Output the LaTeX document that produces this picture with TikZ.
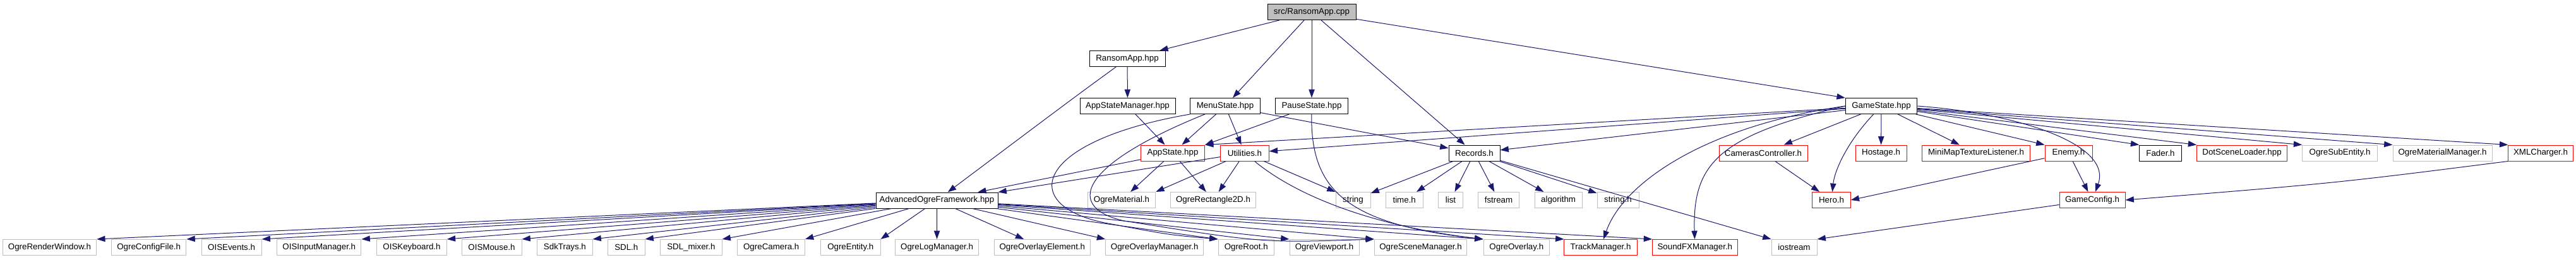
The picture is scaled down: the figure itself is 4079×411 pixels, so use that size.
\documentclass[tikz,border=0pt]{standalone}
\usepackage{fontspec}
\setmainfont{Liberation Sans}
\usetikzlibrary{arrows.meta}
\definecolor{edgec}{HTML}{191970}
\definecolor{grayb}{HTML}{BFBFBF}
\tikzset{
  nd/.style={draw, rectangle, inner sep=0pt, minimum height=18.75pt, line width=0.75pt, font=\fontsize{10pt}{12pt}\selectfont},
  bw/.style={minimum width=#1*0.75pt},
  ext/.style={nd, draw=grayb},
  trunc/.style={nd, draw=red},
  blk/.style={nd, draw=black},
  rootn/.style={nd, draw=black, fill=grayb},
  edge/.style={draw=edgec, line width=0.75pt, -{Triangle[length=10pt,width=7pt]}},
}
\begin{document}
\begin{tikzpicture}[x=0.75pt,y=-0.75pt]
\useasboundingbox (0,0) rectangle (4079,411);
% row 1-3
\node[rootn, bw=140] (cpp) at (2077,19) {src/RansomApp.cpp};
\node[blk, bw=120] (rapp) at (1785,93) {RansomApp.hpp};
\node[blk, bw=151] (asm) at (1785.5,168) {AppStateManager.hpp};
\node[blk, bw=110.5] (menu) at (1940,168) {MenuState.hpp};
\node[blk, bw=114.6] (pause) at (2077,168) {PauseState.hpp};
\node[blk, bw=113.5] (gs) at (2979,168) {GameState.hpp};
% row 4
\node[trunc, bw=101.3] (apst) at (1857,242.5) {AppState.hpp};
\node[trunc, bw=76.5] (util) at (1971,242.5) {Utilities.h};
\node[blk, bw=81] (rec) at (2334.5,242.5) {Records.h};
\node[trunc, bw=140] (cam) at (2792,242.5) {CamerasController.h};
\node[trunc, bw=81] (host) at (2978.5,242.5) {Hostage.h};
\node[trunc, bw=170.6] (mini) at (3129,242.5) {MiniMapTextureListener.h};
\node[trunc, bw=75] (enemy) at (3275.5,242.5) {Enemy.h};
\node[blk, bw=66.6] (fader) at (3421,242.5) {Fader.h};
\node[trunc, bw=142.7] (dsl) at (3550,242.5) {DotSceneLoader.hpp};
\node[ext, bw=118.6] (ose) at (3705,242.5) {OgreSubEntity.h};
\node[ext, bw=157] (omm) at (3867.5,242.5) {OgreMaterialManager.h};
\node[trunc, bw=102.4] (xml) at (4023,242.5) {XMLCharger.h};
% row 5
\node[blk, bw=193] (aof) at (1483.5,317.5) {AdvancedOgreFramework.hpp};
\node[ext, bw=107.5] (omat) at (1776,317) {OgreMaterial.h};
\node[ext, bw=134.3] (orect) at (1921,317) {OgreRectangle2D.h};
\node[ext, bw=55] (str) at (2142.5,317) {string};
\node[ext, bw=59.4] (time) at (2223.7,317) {time.h};
\node[ext, bw=38.7] (list) at (2297,317) {list};
\node[ext, bw=65.5] (fstr) at (2373,317) {fstream};
\node[ext, bw=75] (algo) at (2467.6,317) {algorithm};
\node[ext, bw=66] (strh) at (2562,317) {string.h};
\node[trunc, bw=60.4] (hero) at (2900,317) {Hero.h};
\node[trunc, bw=104] (gcfg) at (3313,317) {GameConfig.h};
% row 6
\node[ext, bw=148.3] (orw) at (78.5,392) {OgreRenderWindow.h};
\node[ext, bw=118.5] (ocf) at (235.7,392) {OgreConfigFile.h};
\node[ext, bw=95] (oise) at (366.6,392) {OISEvents.h};
\node[ext, bw=133.3] (oisim) at (505.3,392) {OISInputManager.h};
\node[ext, bw=110.6] (oisk) at (652,392) {OISKeyboard.h};
\node[ext, bw=95] (oism) at (778.5,392) {OISMouse.h};
\node[ext, bw=87.3] (sdk) at (894.4,392) {SdkTrays.h};
\node[ext, bw=58.5] (sdl) at (991.8,392) {SDL.h};
\node[ext, bw=97.3] (sdlm) at (1094.4,392) {SDL\_mixer.h};
\node[ext, bw=106.5] (ocam) at (1221.2,392) {OgreCamera.h};
\node[ext, bw=94.4] (oent) at (1346.8,392) {OgreEntity.h};
\node[ext, bw=132] (olog) at (1483.6,392) {OgreLogManager.h};
\node[ext, bw=152.6] (oole) at (1650.3,392) {OgreOverlayElement.h};
\node[ext, bw=155] (oolm) at (1828.2,392) {OgreOverlayManager.h};
\node[ext, bw=88.4] (oroot) at (1973.2,392) {OgreRoot.h};
\node[ext, bw=110] (ovp) at (2097,392) {OgreViewport.h};
\node[ext, bw=146.5] (osm) at (2249.5,392) {OgreSceneManager.h};
\node[ext, bw=104.6] (oov) at (2401.3,392) {OgreOverlay.h};
\node[trunc, bw=115.3] (trk) at (2534.6,392) {TrackManager.h};
\node[trunc, bw=134.5] (sfx) at (2683.8,392) {SoundFXManager.h};
\node[ext, bw=72] (ios) at (2841,392) {iostream};

% edges from cpp
\draw[edge] (cpp) -- (rapp);
\draw[edge] (cpp) -- (menu);
\draw[edge] (cpp) -- (pause);
\draw[edge] (cpp) -- (rec);
\draw[edge] (cpp) -- (gs.north west);
% RansomApp.hpp
\draw[edge] (rapp) -- (asm);
\draw[edge] (rapp) .. controls (1700,155) .. (aof);
\draw[edge] (asm) -- (apst);
% MenuState
\draw[edge] (menu) -- (apst);
\draw[edge] (menu) -- (util);
\draw[edge] (menu) -- (rec);
\draw[edge] (menu.south west) .. controls (1630,225) and (1610,330) .. (1760,355) .. controls (1850,372) .. (oroot.north west);
\draw[edge] (menu) .. controls (1700,265) and (1690,330) .. (1780,350) .. controls (2000,385) .. (osm.north west);
% PauseState
\draw[edge] (pause) -- (apst.north east);
\draw[edge] (pause) .. controls (2075,300) and (2130,355) .. (oov.north west);
% GameState
\draw[edge] (gs) -- (apst.north east);
\draw[edge] (gs) -- (util);
\draw[edge] (gs) -- (rec);
\draw[edge] (gs) -- (cam);
\draw[edge] (gs) .. controls (2925,225) and (2905,270) .. (hero);
\draw[edge] (gs) -- (host);
\draw[edge] (gs) -- (mini);
\draw[edge] (gs) -- (enemy.north west);
\draw[edge] (gs.east) .. controls (3200,180) and (3345,230) .. (gcfg);
\draw[edge] (gs) -- (fader.north west);
\draw[edge] (gs) -- (dsl.north west);
\draw[edge] (gs) -- (ose.north west);
\draw[edge] (gs) -- (omm.north west);
\draw[edge] (gs) -- (xml.north west);
\draw[edge] (gs.west) .. controls (2700,200) and (2570,290) .. (trk);
\draw[edge] (gs.west) .. controls (2720,215) and (2680,260) .. (sfx);
% AppState / Utilities
\draw[edge] (apst) -- (aof);
\draw[edge] (apst) -- (omat);
\draw[edge] (apst) -- (orect);
\draw[edge] (util) -- (aof.north east);
\draw[edge] (util) -- (omat.north east);
\draw[edge] (util) -- (orect);
\draw[edge] (util) -- (str.north west);
\draw[edge] (util) .. controls (2040,300) and (2150,355) .. (oov.north west);
% Records
\draw[edge] (rec) -- (str);
\draw[edge] (rec) -- (time);
\draw[edge] (rec) -- (list);
\draw[edge] (rec) -- (fstr);
\draw[edge] (rec) -- (algo);
\draw[edge] (rec) -- (strh);
\draw[edge] (rec) -- (ios.north west);
% right cluster
\draw[edge] (cam) -- (hero);
\draw[edge] (enemy) -- (hero.east);
\draw[edge] (enemy) -- (gcfg);
\draw[edge] (xml.south west) .. controls (3700,290) .. (gcfg.east);
\draw[edge] (gcfg) -- (ios.north east);
% AdvancedOgreFramework
\foreach \t in {orw,ocf,oise,oisim,oisk,oism,sdk,sdl,sdlm,ocam,oent}
  \draw[edge] (aof) -- (\t.north east);
\draw[edge] (aof) -- (olog);
\draw[edge] (aof) -- (oole);
\foreach \t in {oolm,oroot,ovp,osm,oov,trk,sfx}
  \draw[edge] (aof) -- (\t.north west);
\end{tikzpicture}
\end{document}
